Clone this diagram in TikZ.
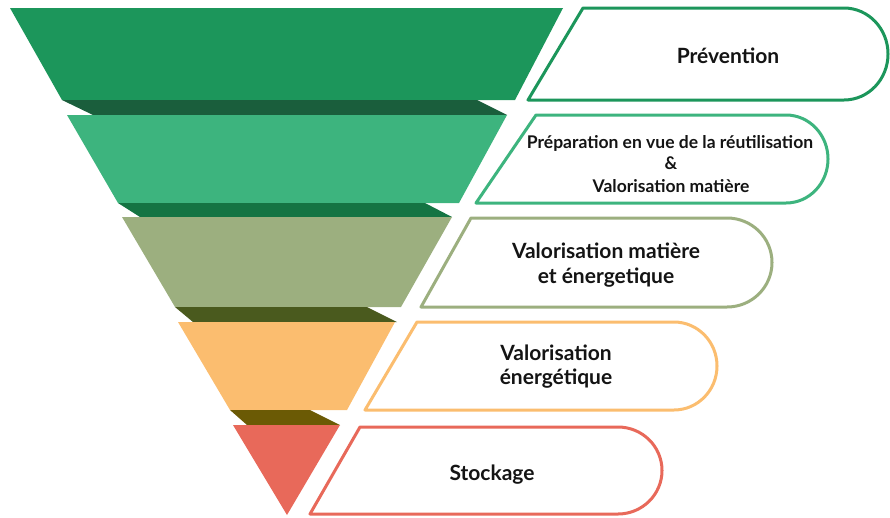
\documentclass[tikz,border=0pt]{standalone}
\usepackage{fontspec}
\setmainfont{Lato}
\definecolor{cA}{RGB}{28,150,91}
\definecolor{sA}{RGB}{26,94,60}
\definecolor{cB}{RGB}{61,180,126}
\definecolor{sB}{RGB}{20,116,67}
\definecolor{cC}{RGB}{156,175,127}
\definecolor{sC}{RGB}{74,90,30}
\definecolor{cD}{RGB}{251,189,111}
\definecolor{sD}{RGB}{107,90,5}
\definecolor{cE}{RGB}{232,105,90}
\tikzset{
  band/.style={fill=#1, draw=none},
  label box/.style={draw=#1, line width=3pt, fill=white, line join=round},
  lbl/.style={anchor=base, inner sep=0pt, font=\bfseries\fontsize{#1}{#1}\selectfont, text=black!92},
}
\begin{document}
\begin{tikzpicture}[x=1pt,y=-1pt]
\useasboundingbox (0,0) rectangle (890,517);
% funnel bands
\fill[band=cA] (10,8) -- (563,8) -- (515,100) -- (62,100) -- cycle;
\fill[band=sA] (62,100) -- (477,100) -- (507,115) -- (93,115) -- cycle;
\fill[band=cB] (67,115) -- (507,115) -- (459,203) -- (118,203) -- cycle;
\fill[band=sB] (118,203) -- (425,203) -- (452,217) -- (140,217) -- cycle;
\fill[band=cC] (122,217) -- (452,217) -- (401,307) -- (175,307) -- cycle;
\fill[band=sC] (175,307) -- (367,307) -- (397,322) -- (193,322) -- cycle;
\fill[band=cD] (178,322) -- (395,322) -- (347,410) -- (230,410) -- cycle;
\fill[band=sD] (230,410) -- (310,410) -- (340,425) -- (247,425) -- cycle;
\fill[band=cE] (233,425) -- (340,425) -- (287,515) -- cycle;
% label boxes (rounded right end)
\draw[label box=cA] (583,8) -- (844,8) .. controls (868.3,8) and (888,28.6) .. (888,54) .. controls (888,79.4) and (868.3,100) .. (844,100) -- (528,100) -- cycle;
\draw[label box=cB] (536,115) -- (786,115) .. controls (809.2,115) and (828,134.7) .. (828,159) .. controls (828,183.3) and (809.2,203) .. (786,203) -- (476,203) -- cycle;
\draw[label box=cC] (471,218) -- (727,218) .. controls (751.9,218) and (772,237.9) .. (772,262.5) .. controls (772,287.1) and (751.9,307) .. (727,307) -- (421,307) -- cycle;
\draw[label box=cD] (417,322) -- (674,322) .. controls (697.7,322) and (717,341.7) .. (717,366) .. controls (717,390.3) and (697.7,410) .. (674,410) -- (365,410) -- cycle;
\draw[label box=cE] (360,427) -- (618,427) .. controls (642.3,427) and (662,446.5) .. (662,470.5) .. controls (662,494.5) and (642.3,514) .. (618,514) -- (310,514) -- cycle;
% texts
\node[lbl=21] (t1) at (728,63) {Prévention};
\node[lbl=17.5] (t2a) at (670,148) {Préparation en vue de la réutilisation};
\node[lbl=17.5] (t2b) at (671,169) {\&};
\node[lbl=17.5] (t2c) at (671,192) {Valorisation matière};
\node[lbl=21] (t3a) at (606,258) {Valorisation matière};
\node[lbl=21] (t3b) at (606,283) {et énergetique};
\node[lbl=21] (t4a) at (556,360) {Valorisation};
\node[lbl=21] (t4b) at (556,384) {énergétique};
\node[lbl=21] (t5) at (492,480) {Stockage};
\end{tikzpicture}
\end{document}
